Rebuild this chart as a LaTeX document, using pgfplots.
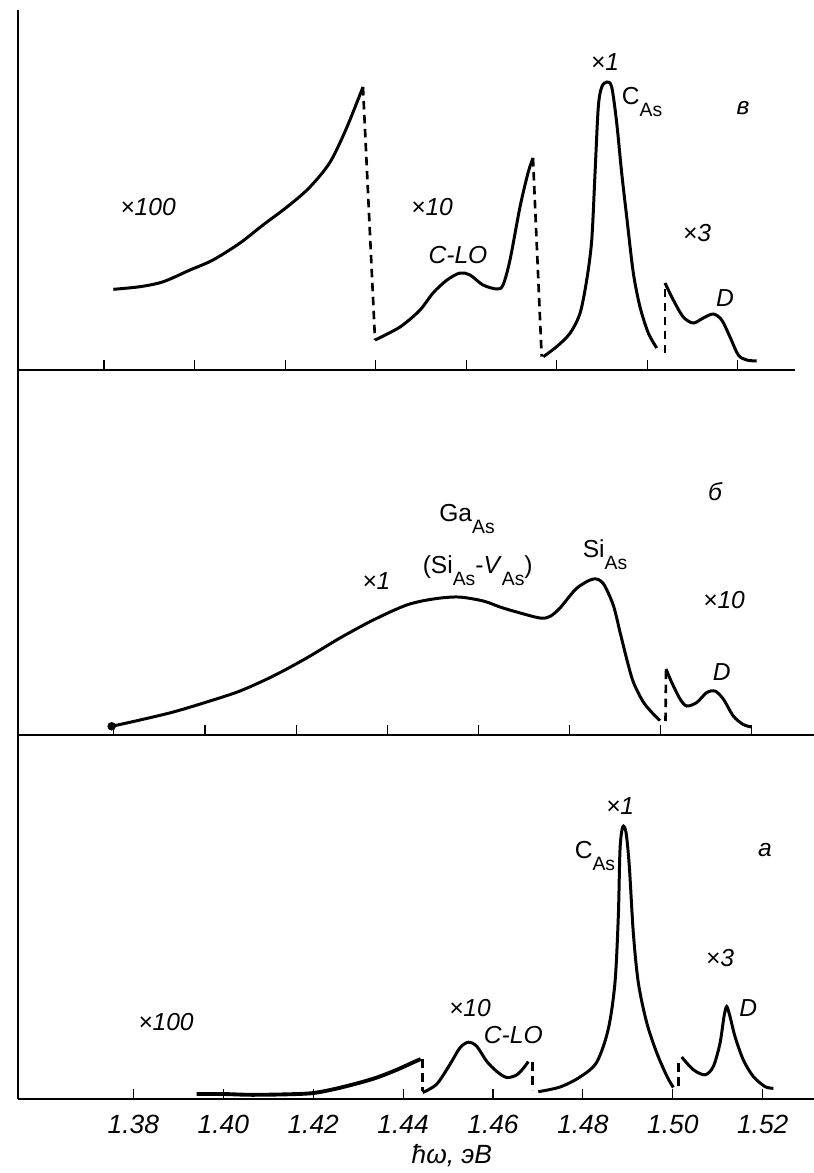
\documentclass[border=0pt]{standalone}
\usepackage{fontspec}
\setmainfont{Liberation Sans}
\usepackage{pgfplots}
\pgfplotsset{compat=1.18}

\newcommand{\sub}[1]{\raisebox{-0.9ex}{\fontsize{11}{13}\selectfont\upshape #1}}

\pgfplotsset{
  panel/.style={
    scale only axis, clip=false,
    axis x line=bottom, axis y line=left,
    axis line style={-, line width=1.1pt, black},
    ymin=0, ytick=\empty,
    xtick={1.38,1.40,1.42,1.44,1.46,1.48,1.50,1.52},
    xticklabels={},
    tick align=inside, major tick length=0.2cm,
    major tick style={line width=0.6pt, black},
  },
  curve/.style={black, line width=1.7pt, smooth, tension=0.5, no markers},
  cut/.style={black, line width=1.5pt, dash pattern=on 0.17cm off 0.11cm, no markers},
}
\tikzset{lab/.style={font=\fontsize{14}{16}\selectfont\itshape, inner sep=0pt}}

\begin{document}
\begin{tikzpicture}
\useasboundingbox (0,0) rectangle (16.28cm,-23.46cm);

% --- в (top) ---
\begin{axis}[panel, at={(0.36cm,-7.40cm)}, anchor=south west,
  width=15.54cm, height=7.20cm, xmin=1.36100, xmax=1.53267, ymax=360]
\addplot[curve] coordinates {(1.38206,80.7)(1.38795,83.3)(1.39310,88.3)(1.39900,100)(1.40408,110)(1.41005,127)(1.41513,145)(1.42043,163)(1.42485,180)(1.42839,198)(1.43060,213)(1.43369,243)(1.43722,283)};
\addplot[cut] coordinates {(1.43722,283)(1.43988,30)};
\addplot[curve] coordinates {(1.43988,30)(1.44540,43)(1.44982,60)(1.45269,77)(1.45578,90)(1.45865,97)(1.46087,95)(1.46374,85)(1.46683,81)(1.46816,85)(1.46970,110)(1.47191,163)(1.47368,197)(1.47478,212)};
\addplot[cut] coordinates {(1.47478,212)(1.47670,13.3)};
\addplot[curve] coordinates {(1.47706,13.3)(1.48000,23.3)(1.48296,36.7)(1.48517,56.7)(1.48665,90)(1.48776,130)(1.48849,197)(1.48921,263)(1.48997,283)(1.49107,288)(1.49217,283)(1.49328,247)(1.49438,197)(1.49549,153)(1.49695,97)(1.49843,63)(1.50026,37)(1.50212,22)};
\addplot[cut] coordinates {(1.50395,17)(1.50395,87)};
\addplot[curve] coordinates {(1.50395,87)(1.50578,70)(1.50799,53)(1.51020,47)(1.51241,52)(1.51462,56)(1.51648,50)(1.51831,33)(1.52015,15)(1.52200,10)(1.52421,9)};
\node[lab] at (axis cs:1.38972,163) {×100};
\node[lab] at (axis cs:1.45247,163) {×10};
\node[lab] at (axis cs:1.45821,115) {C-LO};
\node[lab] at (axis cs:1.49069,308) {×1};
\node[lab] at (axis cs:1.49887,268) {\upshape C\sub{As}};
\node[lab] at (axis cs:1.52118,262) {в};
\node[lab] at (axis cs:1.51102,137) {×3};
\node[lab] at (axis cs:1.51721,72) {D};
\end{axis}

% --- б (middle) ---
\begin{axis}[panel, at={(0.36cm,-14.70cm)}, anchor=south west,
  width=15.92cm, height=7.30cm, xmin=1.35896, xmax=1.53367, ymax=365]
\addplot[curve] coordinates {(1.37952,8.7)(1.38573,15)(1.39304,23)(1.40037,33)(1.40768,44)(1.41499,59)(1.42232,77)(1.42963,97)(1.43694,115)(1.44427,130)(1.45011,136)(1.45560,138)(1.46108,134)(1.46475,128)(1.46842,123)(1.47353,117)(1.47572,118.6)(1.47792,127)(1.48158,146.7)(1.48523,156)(1.48742,151.4)(1.48962,129.7)(1.49109,103)(1.49256,76)(1.49401,53)(1.49620,33)(1.49840,21)(1.49987,14.4)};
\addplot[only marks, mark=*, mark size=2.2pt, black] coordinates {(1.37952,8.7)};
\addplot[cut] coordinates {(1.50108,14)(1.50119,66)};
\addplot[curve] coordinates {(1.50119,66)(1.50244,52.6)(1.50427,36)(1.50573,29)(1.50793,32.5)(1.51012,42.5)(1.51194,44)(1.51376,36)(1.51596,19)(1.51815,10.5)(1.52000,8)};
\node[lab] at (axis cs:1.51196,243) {б};
\node[lab] at (axis cs:1.45751,216) {\upshape Ga\sub{As}};
\node[lab] at (axis cs:1.45986,164) {\upshape (Si\sub{As}-\textit{V}\sub{As})};
\node[lab] at (axis cs:1.43762,154) {×1};
\node[lab] at (axis cs:1.48780,180) {\upshape Si\sub{As}};
\node[lab] at (axis cs:1.51392,135) {×10};
\node[lab] at (axis cs:1.51341,63) {D};
\end{axis}

% --- а (bottom) ---
\begin{axis}[panel, at={(0.36cm,-21.98cm)}, anchor=south west,
  width=15.92cm, height=7.28cm, xmin=1.35433, xmax=1.53141, ymax=364,
  xticklabels={1.38,1.40,1.42,1.44,1.46,1.48,1.50,1.52},
  xticklabel style={anchor=center, yshift=-0.5cm, font=\fontsize{15}{17}\selectfont\itshape}]
\addplot[curve, line width=2.2pt] coordinates {(1.39408,5)(1.40000,5)(1.40594,4.2)(1.41335,4.6)(1.41967,5.8)(1.42447,9.7)(1.42968,15.5)(1.43413,21.4)(1.43858,29.2)(1.44227,36.7)(1.44392,39.9)};
\addplot[cut] coordinates {(1.44436,40)(1.44436,8)};
\addplot[curve] coordinates {(1.44436,6.5)(1.44747,14.8)(1.45043,34.7)(1.45265,51.2)(1.45451,56.8)(1.45637,52.8)(1.45860,37.7)(1.46082,27.6)(1.46305,21.5)(1.46527,24.1)(1.46674,30.7)(1.46785,37.4)};
\addplot[cut] coordinates {(1.46883,37)(1.46883,9)};
\addplot[curve] coordinates {(1.47008,7.3)(1.47491,12)(1.47936,22)(1.48307,36.8)(1.48565,70)(1.48714,116.7)(1.48788,183)(1.48826,250)(1.48885,272)(1.48959,266.6)(1.49032,233)(1.49121,166.5)(1.49232,116.5)(1.49419,76.4)(1.49642,46.3)(1.49864,23.2)(1.50011,11.5)};
\addplot[cut] coordinates {(1.50122,36)(1.50122,10)};
\addplot[curve] coordinates {(1.50198,42)(1.50456,29.3)(1.50716,24.2)(1.50901,32.5)(1.51050,55.8)(1.51139,82.5)(1.51199,92.4)(1.51273,82.4)(1.51384,62.4)(1.51569,39)(1.51791,22.5)(1.52052,12.4)(1.52236,10.7)};
\node[lab] at (axis cs:1.38725,77) {×100};
\node[lab] at (axis cs:1.45488,91) {×10};
\node[lab] at (axis cs:1.46452,64) {C-LO};
\node[lab] at (axis cs:1.48826,293) {×1};
\node[lab] at (axis cs:1.48269,243) {\upshape C\sub{As}};
\node[lab] at (axis cs:1.52051,249) {а};
\node[lab] at (axis cs:1.51050,141) {×3};
\node[lab] at (axis cs:1.51680,91) {D};
\node[font=\fontsize{15}{17}\selectfont\itshape] at (axis description cs:0.545,0) [yshift=-1.14cm] {ħω, эВ};
\end{axis}
\end{tikzpicture}
\end{document}
